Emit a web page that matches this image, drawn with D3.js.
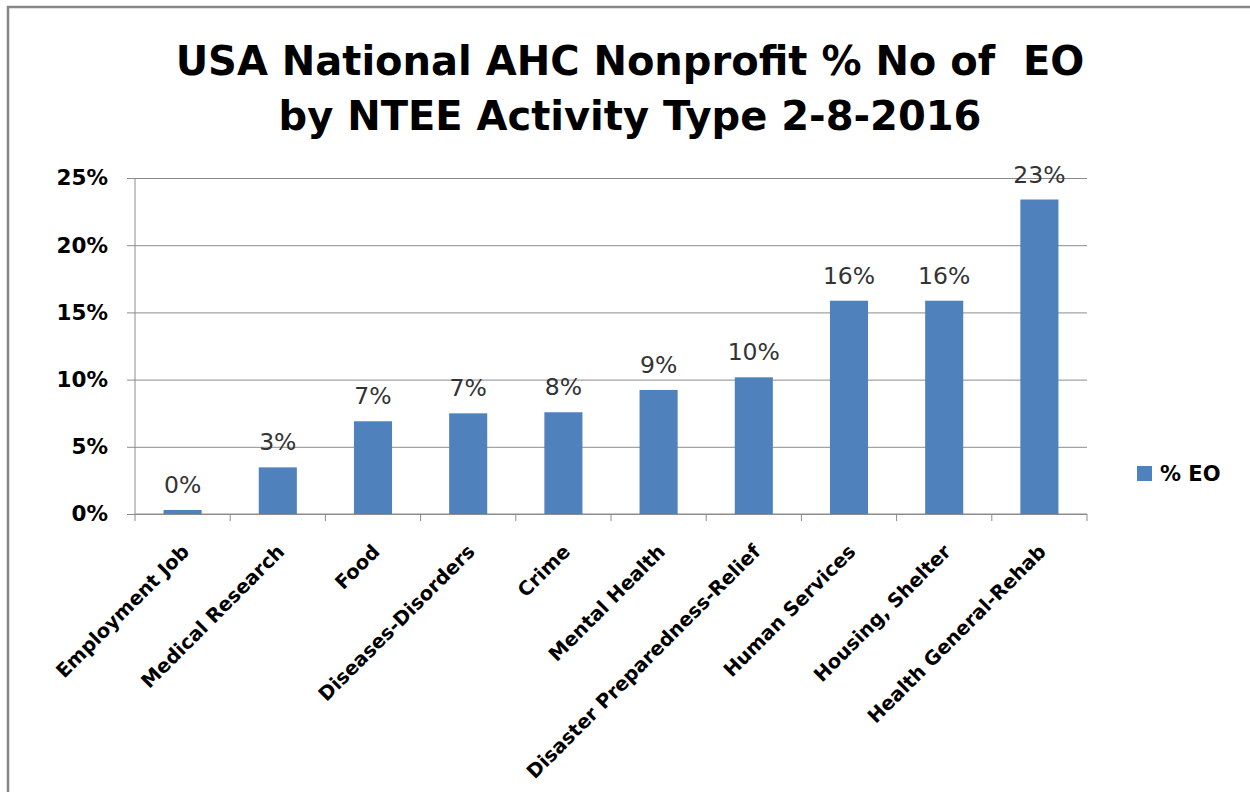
<!DOCTYPE html>
<html>
<head>
<meta charset="utf-8">
<script src="https://cdn.jsdelivr.net/npm/d3@7"></script>
<style>
  html, body { margin: 0; padding: 0; background: #fff; }
  svg { display: block; }
</style>
</head>
<body>
<svg></svg>
<script>
const barColor = "#4f81bd"
const gridColor = "#8c8c8c"

// data
const categories = ["Employment Job", "Medical Research", "Food", "Diseases-Disorders", "Crime",
  "Mental Health", "Disaster Preparedness-Relief", "Human Services", "Housing, Shelter", "Health General-Rehab"]
const shareEO = [0.003, 0.0347, 0.069, 0.0749, 0.0757, 0.0923, 0.1017, 0.1587, 0.1587, 0.234]
const yTicks = [0, 0.05, 0.10, 0.15, 0.20, 0.25]
const titleLines = ["USA National AHC Nonprofit % No of  EO", "by NTEE Activity Type 2-8-2016"]
const seriesName = "% EO"

const data = categories.map((c, i) => ({ cat: c, value: shareEO[i] }))

// canvas
const W = 1250, H = 792
const margin = { top: 178, right: 163, bottom: 278, left: 135 }
const width = W - margin.left - margin.right
const height = H - margin.top - margin.bottom

const svg = d3.select("svg").attr("width", W).attr("height", H)
  .style("font-family", "'DejaVu Sans', sans-serif")

// outer frame (only top and left edges visible)
svg.append("rect")
  .attr("x", 8).attr("y", 7)
  .attr("width", W + 20).attr("height", H + 20)
  .attr("fill", "none").attr("stroke", "#868686").attr("stroke-width", 2.5)

// title
svg.append("g").selectAll("text")
  .data(titleLines)
  .enter().append("text")
  .attr("x", 630)
  .attr("y", (d, i) => 75 + i * 55)
  .attr("text-anchor", "middle")
  .attr("font-weight", "bold")
  .attr("font-size", 40)
  .attr("fill", "#000")
  .style("white-space", "pre")
  .text(d => d)

const chart = svg.append("g")
  .attr("transform", `translate(${margin.left}, ${margin.top})`)

const xScale = d3.scaleBand()
  .domain(categories)
  .range([0, width])
  .paddingInner(0.6)
  .paddingOuter(0.3)

const yScale = d3.scaleLinear()
  .domain([0, 0.25])
  .range([height, 0])

// gridlines + y axis
const yAxis = chart.append("g")
  .call(d3.axisLeft(yScale)
    .tickValues(yTicks)
    .tickFormat(d3.format(".0%"))
    .tickSize(-width)
    .tickPadding(27))
yAxis.select(".domain").remove()
yAxis.selectAll(".tick line")
  .attr("x1", -8)
  .attr("stroke", gridColor)
yAxis.selectAll(".tick text")
  .attr("font-size", 21.5)
  .attr("font-weight", "bold")
  .attr("fill", "#000")
  .attr("font-family", "'DejaVu Sans', sans-serif")

chart.append("line")
  .attr("x1", 0).attr("x2", 0)
  .attr("y1", 0).attr("y2", height)
  .attr("stroke", gridColor)

// x axis with ticks between categories
const step = xScale.step()
const xAxis = chart.append("g")
  .attr("transform", `translate(0, ${height})`)
xAxis.append("line")
  .attr("x1", 0).attr("x2", width)
  .attr("stroke", gridColor)
xAxis.selectAll(".sep")
  .data(d3.range(categories.length + 1))
  .enter().append("line")
  .attr("x1", i => i * step).attr("x2", i => i * step)
  .attr("y1", 0).attr("y2", 7)
  .attr("stroke", gridColor)
xAxis.selectAll(".lbl")
  .data(categories)
  .enter().append("text")
  .attr("transform", d => `translate(${xScale(d) + xScale.bandwidth() / 2 + 3}, 34) rotate(-45)`)
  .attr("text-anchor", "end")
  .attr("dy", "0.35em")
  .attr("font-size", 19.5)
  .attr("font-weight", "bold")
  .attr("fill", "#000")
  .text(d => d)

// bars
chart.append("g").selectAll("rect")
  .data(data)
  .enter().append("rect")
  .attr("x", d => xScale(d.cat))
  .attr("y", d => yScale(d.value))
  .attr("width", xScale.bandwidth())
  .attr("height", d => height - yScale(d.value))
  .attr("fill", barColor)

// data labels
chart.append("g").selectAll("text")
  .data(data)
  .enter().append("text")
  .attr("x", d => xScale(d.cat) + xScale.bandwidth() / 2)
  .attr("y", d => yScale(d.value) - 17)
  .attr("text-anchor", "middle")
  .attr("font-size", 23.5)
  .attr("fill", "#333")
  .text(d => d3.format(".0%")(d.value))

// legend
const legend = svg.append("g")
  .attr("transform", "translate(1137, 466)")
legend.append("rect")
  .attr("width", 15).attr("height", 15)
  .attr("fill", barColor)
legend.append("text")
  .attr("x", 23).attr("y", 15)
  .attr("font-size", 21)
  .attr("font-weight", "bold")
  .attr("fill", "#000")
  .text(seriesName)
</script>
</body>
</html>
